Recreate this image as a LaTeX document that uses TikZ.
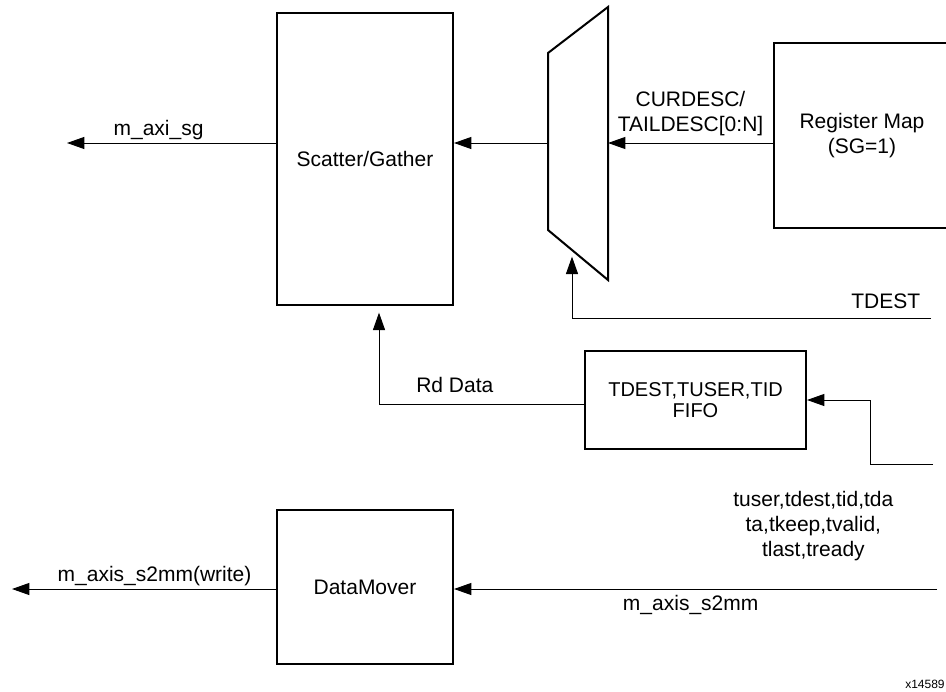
\documentclass[tikz,border=0pt]{standalone}
\usepackage{fontspec}
\setmainfont{Liberation Sans}
\usetikzlibrary{arrows.meta, positioning, calc}

\begin{document}
\begin{tikzpicture}[
    x=0.75pt, y=-0.75pt,
    font=\fontsize{15.75pt}{18.9pt}\selectfont,
    block/.style={rectangle, draw=black, line width=1.5pt, minimum width=132pt, align=center, inner sep=0pt},
    arrow/.style={-{Triangle[length=13pt, width=9pt]}, line width=0.75pt, draw=black},
    lbl/.style={inner sep=0pt, anchor=base},
    lbls/.style={inner sep=0pt, anchor=south, align=center}
]
\useasboundingbox (0,0) rectangle (946,692);

% Nodes
\node[block, minimum height=219pt] (sg) at (365,159) {Scatter/Gather};
\node[block, minimum height=138.75pt] (regmap) at (862,135.5) {Register Map\\(SG=1)};
\node[block, minimum width=165.75pt, minimum height=73.5pt, font=\fontsize{15pt}{16.3pt}\selectfont] (fifo) at (695.5,400) {TDEST,TUSER,TID\\FIFO};
\node[block, minimum height=115.5pt] (dm) at (365,587) {DataMover};

% Mux
\draw[line width=1.5pt] (548,53) -- (608,7) -- (608,280) -- (548,230) -- cycle;
\coordinate (muxin) at (608,143);
\coordinate (muxout) at (548,143);
\coordinate (muxsel) at (572,250);

% Free ends
\coordinate (sgout) at (67,143);
\coordinate (tdestin) at (931,318);
\coordinate (fifoin) at (933,464);
\coordinate (s2mmin) at (937,589);
\coordinate (dmout) at (12,589);
\node[inner sep=0pt, anchor=base west, font=\fontsize{9pt}{11pt}\selectfont] (figid) at (905,688) {x14589};

% Arrows
\draw[arrow] (regmap.west |- muxin) -- node[lbls, pos=0.5, yshift=5.2pt] {CURDESC/\\TAILDESC[0:N]} (muxin);
\draw[arrow] (muxout) -- (sg.east |- muxout);
\draw[arrow] (sg.west |- muxout) -- node[lbl, pos=0.562, yshift=6pt] {m\_axi\_sg} (sgout);
\draw[arrow, shorten >=5pt] (tdestin) -| node[lbl, pos=0.063, yshift=7.5pt] {TDEST} (muxsel);
\draw[arrow] (fifoin) -- ++(-63,0) |- (fifo.east);
\draw[arrow, shorten >=5pt] ([yshift=-3pt]fifo.west) -| node[lbl, pos=0.315, yshift=8.5pt] {Rd Data} ([xshift=10.5pt]sg.south);

% Datamover path
\draw[arrow] (s2mmin) -- node[lbl, pos=0.51, yshift=-15.75pt] {m\_axis\_s2mm}
    node[lbls, pos=0.256, yshift=20.7pt, font=\fontsize{15.75pt}{18.75pt}\selectfont] {tuser,tdest,tid,tda\\ta,tkeep,tvalid,\\tlast,tready} (dm.east |- s2mmin);
\draw[arrow] (dm.west |- s2mmin) -- node[lbl, pos=0.46, yshift=6pt] {m\_axis\_s2mm(write)} (dmout);

\end{tikzpicture}
\end{document}
